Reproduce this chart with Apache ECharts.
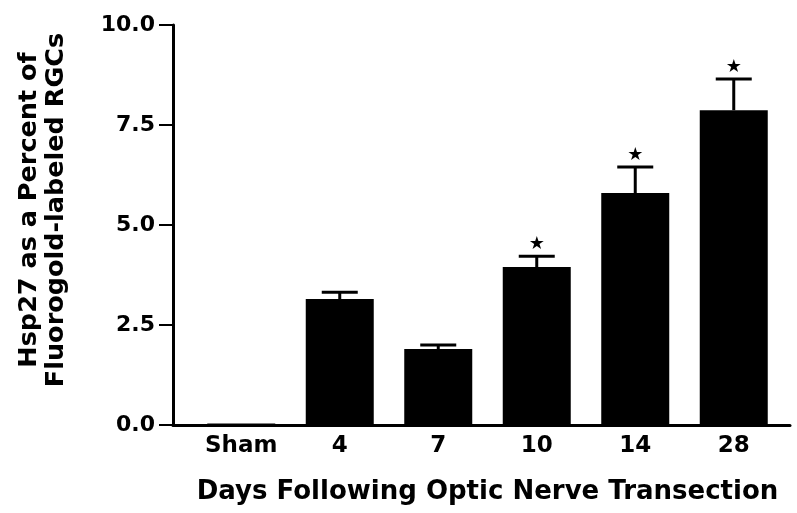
<!DOCTYPE html>
<html><head><meta charset="utf-8">
<script src="https://cdn.jsdelivr.net/npm/echarts@6/dist/echarts.min.js"></script>
<style>html,body{margin:0;padding:0;background:#fff}#c{width:797px;height:513px}</style>
</head><body><div id="c"></div>
<script>
const categories = ['Sham', '4', '7', '10', '14', '28'];
const means = [0.04, 3.15, 1.9, 3.95, 5.8, 7.87];
const sems = [0, 0.17, 0.1, 0.27, 0.65, 0.78];
const significant = [false, false, false, true, true, true];
const yTicks = [0, 2.5, 5, 7.5, 10];

const FONT = 'DejaVu Sans';
const chart = echarts.init(document.getElementById('c'));
chart.setOption({
  animation: false,
  backgroundColor: '#fff',
  grid: [
    { left: 192, right: 14, top: 25, bottom: 88, outerBoundsMode: 'none', containLabel: false },
    { left: 173, right: 7, top: 25, bottom: 88, outerBoundsMode: 'none', containLabel: false }
  ],
  xAxis: [{
    type: 'category', data: categories, gridIndex: 0,
    axisLine: { lineStyle: { color: '#000', width: 3 } },
    axisTick: { show: false },
    axisLabel: { color: '#000', fontFamily: FONT, fontWeight: 'bold', fontSize: 23, margin: 10 },
    name: 'Days Following Optic Nerve Transection', nameLocation: 'middle', nameGap: 54,
    nameMoveOverlap: false,
    nameTextStyle: { color: '#000', fontFamily: FONT, fontWeight: 'bold', fontSize: 26 }
  }, {
    type: 'value', gridIndex: 1,
    axisLine: { show: true, onZero: false, lineStyle: { color: '#000', width: 3 } },
    axisTick: { show: false }, axisLabel: { show: false }, splitLine: { show: false }
  }],
  yAxis: [{
    type: 'value', gridIndex: 0, min: 0, max: 10, interval: 2.5, offset: 19,
    axisLine: { show: true, lineStyle: { color: '#000', width: 3 } },
    axisTick: { show: true, length: 14, lineStyle: { color: '#000', width: 2 } },
    splitLine: { show: false },
    axisLabel: { color: '#000', fontFamily: FONT, fontWeight: 'bold', fontSize: 22, margin: 18,
      formatter: v => yTicks.includes(v) ? v.toFixed(1) : '' },
    name: 'Hsp27 as a Percent of\nFluorogold-labeled RGCs', nameLocation: 'middle', nameGap: 103,
    nameMoveOverlap: false,
    nameTextStyle: { color: '#000', fontFamily: FONT, fontWeight: 'bold', fontSize: 25.5, lineHeight: 27,
      padding: [0, 0, 0, 30] }
  }, {
    type: 'value', gridIndex: 1, show: false, min: 0, max: 10
  }],
  series: [{
    type: 'bar', data: means, barWidth: 68, xAxisIndex: 0, yAxisIndex: 0,
    itemStyle: { color: '#000' }
  }, {
    type: 'custom', xAxisIndex: 0, yAxisIndex: 0,
    data: means.map((m, i) => [i, m, sems[i], significant[i] ? 1 : 0]),
    renderItem: function (params, api) {
      const i = api.value(0), m = api.value(1), e = api.value(2), sig = api.value(3);
      const children = [];
      const top = api.coord([i, m + e]);
      const base = api.coord([i, m]);
      if (e > 0) {
        children.push({ type: 'line', shape: { x1: base[0], y1: base[1], x2: top[0], y2: top[1] },
          style: { stroke: '#000', lineWidth: 3 } });
        children.push({ type: 'line', shape: { x1: top[0] - 18, y1: top[1], x2: top[0] + 18, y2: top[1] },
          style: { stroke: '#000', lineWidth: 3 } });
      }
      if (sig) {
        children.push({ type: 'text', x: top[0], y: top[1] - 12,
          style: { text: '★', fontFamily: FONT, fontSize: 18, fill: '#000', align: 'center', verticalAlign: 'middle' } });
      }
      return { type: 'group', children: children };
    }
  }]
});
</script></body></html>
